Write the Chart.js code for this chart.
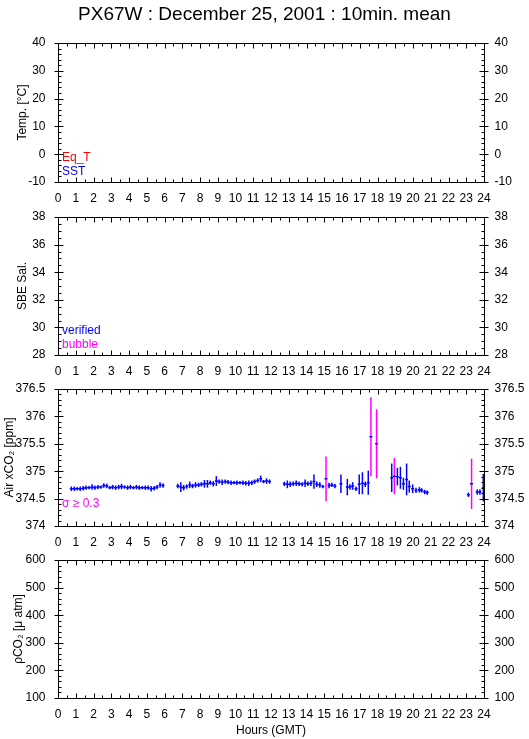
<!DOCTYPE html>
<html><head><meta charset="utf-8">
<script src="https://cdn.jsdelivr.net/npm/chart.js@4/dist/chart.umd.min.js"></script>
<style>
html,body{margin:0;padding:0;background:#fff;}
body{width:529px;height:739px;position:relative;overflow:hidden;}
canvas{position:absolute;left:0;}
</style></head><body>
<canvas id="c1" width="529" height="205" style="top:0px"></canvas>
<canvas id="c2" width="529" height="175" style="top:205px"></canvas>
<canvas id="c3" width="529" height="170" style="top:380px"></canvas>
<canvas id="c4" width="529" height="189" style="top:550px"></canvas>
<script>
// ---------- data ----------
const chartTitle = 'PX67W : December 25, 2001 : 10min. mean';
const hourTicks = [0,1,2,3,4,5,6,7,8,9,10,11,12,13,14,15,16,17,18,19,20,21,22,23,24];

// Air xCO2, 10-minute means (hour GMT, value ppm, sigma ppm)
const xco2Hours = [
 0.75,0.92,1.08,1.25,1.42,1.58,1.75,1.92,2.08,2.25,2.42,2.58,2.75,2.92,3.08,3.25,3.42,3.58,3.75,3.92,
 4.08,4.25,4.42,4.58,4.75,4.92,5.08,5.25,5.42,5.58,5.75,5.92,
 6.75,6.92,7.08,7.25,7.42,7.58,7.75,7.92,8.08,8.25,8.42,8.58,8.75,8.92,9.08,9.25,9.42,9.58,9.75,9.92,
 10.08,10.25,10.42,10.58,10.75,10.92,11.08,11.25,11.42,11.58,11.75,11.92,
 12.75,12.92,13.08,13.25,13.42,13.58,13.75,13.92,14.08,14.25,14.42,14.58,14.75,14.92,15.10,15.27,15.43,15.60,
 15.94,16.30,16.45,16.60,16.79,16.97,17.15,17.31,17.48,17.63,17.95,
 18.80,18.95,19.12,19.29,19.46,19.64,19.79,19.98,20.17,20.36,20.49,20.66,20.80,
 23.12,23.30,23.62,23.77,23.96];
const xco2Values = [
 374.68,374.68,374.68,374.68,374.69,374.70,374.70,374.71,374.70,374.71,374.71,374.74,374.73,374.70,374.71,374.70,374.71,374.72,374.71,374.70,
 374.71,374.70,374.71,374.70,374.70,374.70,374.70,374.68,374.69,374.71,374.75,374.74,
 374.73,374.71,374.70,374.72,374.75,374.73,374.75,374.75,374.76,374.77,374.77,374.79,374.77,374.82,374.81,374.80,374.81,374.80,374.79,374.79,
 374.79,374.79,374.79,374.78,374.78,374.79,374.81,374.83,374.86,374.81,374.82,374.81,
 374.77,374.76,374.76,374.77,374.78,374.77,374.76,374.78,374.77,374.78,374.81,374.76,374.75,374.72,374.86,374.74,374.75,374.73,
 374.77,374.71,374.71,374.73,374.68,374.76,374.78,374.76,374.79,375.63,375.50,
 374.88,374.91,374.90,374.88,374.77,374.85,374.72,374.68,374.65,374.66,374.65,374.62,374.61,
 374.57,374.77,374.62,374.62,374.70];
const xco2Sigma = [
 0.04,0.04,0.03,0.04,0.04,0.04,0.03,0.05,0.04,0.04,0.03,0.04,0.04,0.03,0.04,0.04,0.04,0.05,0.03,0.04,
 0.04,0.03,0.04,0.04,0.03,0.04,0.04,0.05,0.04,0.04,0.05,0.04,
 0.04,0.09,0.05,0.04,0.06,0.04,0.05,0.04,0.04,0.07,0.07,0.04,0.05,0.09,0.04,0.05,0.04,0.04,0.04,0.03,
 0.04,0.03,0.04,0.04,0.05,0.04,0.04,0.04,0.06,0.03,0.05,0.04,
 0.04,0.07,0.05,0.04,0.05,0.04,0.04,0.07,0.04,0.05,0.13,0.05,0.05,0.03,0.41,0.05,0.04,0.04,
 0.17,0.15,0.05,0.07,0.04,0.18,0.20,0.05,0.22,0.72,0.63,
 0.26,0.33,0.16,0.20,0.11,0.29,0.11,0.08,0.05,0.05,0.04,0.04,0.04,
 0.04,0.46,0.05,0.05,0.25];
const sigmaLimit = 0.3;

// Other series have no data on this day
const eqTempValues = [];
const sstValues = [];
const salVerifiedValues = [];
const salBubbleValues = [];
const pco2Values = [];

// ---------- styling ----------
const FONT = "'Liberation Sans', Arial, 'DejaVu Sans', sans-serif";
Chart.defaults.font.family = FONT;
Chart.defaults.font.size = 12;
Chart.defaults.color = '#000';
const BLUE = '#0000ff', MAGENTA = '#ff00ff', RED = '#ff0000';

const fmt = v => String(Math.round(v * 100) / 100);

const framePlugin = {
  id: 'frame',
  afterDraw(chart, args, o) {
    const {ctx, chartArea: a, scales} = chart;
    const x = scales.x, y = scales.y;
    const L = Math.round(a.left) + 0.5, R = Math.round(a.right) + 0.5;
    const T = Math.round(a.top) + 0.5, B = Math.round(a.bottom) + 0.5;
    ctx.save();
    ctx.strokeStyle = '#000'; ctx.lineWidth = 1;
    ctx.beginPath();
    ctx.rect(L, T, R - L, B - T);
    for (let k = 0; k <= 48; k++) {
      const px = Math.round(x.getPixelForValue(k / 2)) + 0.5;
      const len = (k % 2 === 0) ? 5 : 3;
      ctx.moveTo(px, B); ctx.lineTo(px, B - len);
      ctx.moveTo(px, T); ctx.lineTo(px, T + len);
    }
    const n = Math.round((o.max - o.min) / o.minor);
    const per = Math.round(o.major / o.minor);
    for (let k = 0; k <= n; k++) {
      const v = o.min + k * o.minor;
      const py = Math.round(y.getPixelForValue(v)) + 0.5;
      const major = k % per === 0;
      const len = major ? 5 : 3;
      ctx.moveTo(L, py); ctx.lineTo(L + len, py);
      ctx.moveTo(R, py); ctx.lineTo(R - len, py);
      if (major) {
        ctx.moveTo(L, py); ctx.lineTo(L - 4, py);
        ctx.moveTo(R, py); ctx.lineTo(R + 4, py);
      }
    }
    ctx.stroke();
    (o.notes || []).forEach(nt => {
      ctx.font = '12px ' + FONT;
      ctx.fillStyle = nt.color;
      ctx.textAlign = 'left';
      ctx.textBaseline = 'middle';
      ctx.fillText(nt.text, a.left + 4, a.bottom - nt.dy);
    });
    ctx.restore();
  }
};

const errPlugin = {
  id: 'errbars',
  afterDatasetsDraw(chart) {
    const {ctx, scales: {x, y}} = chart;
    ctx.save();
    ctx.lineWidth = 1.5;
    chart.data.datasets.forEach(ds => {
      if (!ds.errorBars) return;
      ds.data.forEach(p => {
        const px = x.getPixelForValue(p.x);
        ctx.strokeStyle = p.s >= sigmaLimit ? MAGENTA : BLUE;
        ctx.beginPath();
        ctx.moveTo(px, y.getPixelForValue(p.y - p.s));
        ctx.lineTo(px, y.getPixelForValue(p.y + p.s));
        ctx.stroke();
      });
      ctx.strokeStyle = BLUE;
      ctx.beginPath();
      ds.data.forEach(p => {
        const py = y.getPixelForValue(p.y);
        ctx.moveTo(x.getPixelForValue(p.x - 1/12), py);
        ctx.lineTo(x.getPixelForValue(p.x + 1/12), py);
      });
      ctx.stroke();
    });
    ctx.restore();
  }
};

function makeChart(id, cfg) {
  const yCommon = {
    min: cfg.min, max: cfg.max,
    grid: {display: false, drawTicks: false}, border: {display: false},
  };
  return new Chart(document.getElementById(id), {
    type: 'scatter',
    data: {datasets: cfg.datasets},
    plugins: [framePlugin, errPlugin],
    options: {
      responsive: false, animation: false,
      layout: {padding: {top: cfg.padTop, left: 0, right: 0, bottom: 0}},
      elements: {point: {radius: 0}},
      plugins: {
        legend: {display: false}, tooltip: {enabled: false},
        title: cfg.title ? {display: true, text: cfg.title, color: '#000',
          font: {size: 19, weight: 'normal', family: FONT}, padding: {top: 3, bottom: 17.2}} : {display: false},
        frame: {min: cfg.min, max: cfg.max, major: cfg.major, minor: cfg.minor, notes: cfg.notes}
      },
      scales: {
        x: {
          type: 'linear', position: 'bottom', min: 0, max: 24,
          grid: {display: false, drawTicks: false}, border: {display: false},
          afterBuildTicks: s => { s.ticks = hourTicks.map(v => ({value: v})); },
          ticks: {autoSkip: false, maxRotation: 0, padding: 9.5, font: {size: 12}},
          title: cfg.xTitle ? {display: true, text: cfg.xTitle, padding: {top: 0, bottom: 1}, font: {size: 12}} : {display: false},
          afterFit: s => { s.height = cfg.xH; s.paddingLeft = 0; s.paddingRight = 0; }
        },
        y: Object.assign({}, yCommon, {
          position: 'left',
          ticks: {stepSize: cfg.major, padding: 12.5, font: {size: 12}, callback: fmt},
          title: {display: true, text: cfg.yTitle, padding: {top: cfg.yTitlePad}, font: {size: 12}},
          afterFit: s => { s.width = 58; s.paddingTop = 0; s.paddingBottom = 0; }
        }),
        y2: Object.assign({}, yCommon, {
          position: 'right',
          ticks: {stepSize: cfg.major, padding: 10.5, font: {size: 12}, callback: fmt},
          afterFit: s => { s.width = 45; s.paddingTop = 0; s.paddingBottom = 0; }
        })
      }
    }
  });
}

makeChart('c1', {
  title: chartTitle, padTop: 0, xH: 23,
  min: -10, max: 40, major: 10, minor: 2, yTitle: 'Temp. [°C]', yTitlePad: 15,
  datasets: [
    {label: 'Eq_T', data: eqTempValues, borderColor: RED},
    {label: 'SST', data: sstValues, borderColor: BLUE}
  ],
  notes: [{text: 'Eq_T', color: RED, dy: 24}, {text: 'SST', color: BLUE, dy: 10}]
});
makeChart('c2', {
  padTop: 12, xH: 25,
  min: 28, max: 38, major: 2, minor: 0.5, yTitle: 'SBE Sal.', yTitlePad: 15,
  datasets: [
    {label: 'verified', data: salVerifiedValues, borderColor: BLUE},
    {label: 'bubble', data: salBubbleValues, borderColor: MAGENTA}
  ],
  notes: [{text: 'verified', color: BLUE, dy: 24}, {text: 'bubble', color: MAGENTA, dy: 10}]
});
makeChart('c3', {
  padTop: 9, xH: 24,
  min: 374, max: 376.5, major: 0.5, minor: 0.1, yTitle: 'Air xCO\u2082 [ppm]', yTitlePad: 2,
  datasets: [
    {label: 'Air xCO2', errorBars: true, borderColor: BLUE,
     data: xco2Hours.map((h, i) => ({x: h, y: xco2Values[i], s: xco2Sigma[i]}))}
  ],
  notes: [{text: '\u03c3 \u2265 0.3', color: MAGENTA, dy: 22}]
});
makeChart('c4', {
  padTop: 10, xH: 41, xTitle: 'Hours (GMT)',
  min: 100, max: 600, major: 100, minor: 20, yTitle: '\u03c1CO\u2082 [\u03bc atm]', yTitlePad: 11,
  datasets: [
    {label: 'pCO2', data: pco2Values, borderColor: BLUE}
  ],
  notes: []
});
</script>
</body></html>
